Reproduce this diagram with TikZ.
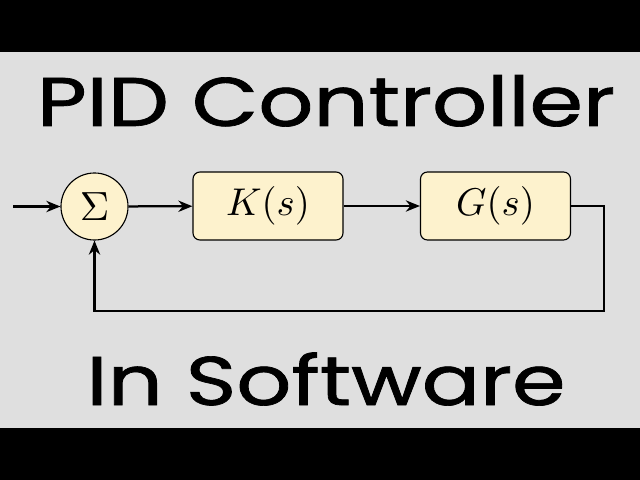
\documentclass[tikz,border=0pt]{standalone}
\usepackage{fontspec}
\newfontfamily\titlefont[FakeBold=1]{Poppins}
\usetikzlibrary{arrows.meta}
\definecolor{bg}{HTML}{DFDFDF}
\definecolor{boxfill}{HTML}{FDF2CD}
\begin{document}
\begin{tikzpicture}[x=0.025cm,y=-0.025cm,
  blk/.style={draw,line width=0.8pt,fill=boxfill,rounded corners=5pt,minimum width=3.75cm,minimum height=1.7cm,inner sep=0pt},
  sumnode/.style={draw,circle,line width=0.8pt,fill=boxfill,minimum size=1.675cm,inner sep=0pt},
  conn/.style={line width=1.6pt,-{Stealth[length=10pt,width=8pt]}},
  title/.style={font=\titlefont\fontsize{49}{55}\selectfont,inner sep=0pt,anchor=base}]
\fill[bg] (0,0) rectangle (640,480);
\fill[black] (0,0) rectangle (640,52);
\fill[black] (0,428) rectangle (640,480);
\useasboundingbox (0,0) rectangle (640,480);
\node[title] (t1) at (326,126) {\scalebox{1.25}[1]{PID Controller}};
\node[title] (t2) at (326,405) {\scalebox{1.25}[1]{In Software}};
\node[sumnode] (sum) at (94.5,206.5) {\scalebox{2.9}{$\Sigma$}};
\node[blk] (k) at (268,206) {\scalebox{2.75}{$K(s)$}};
\node[blk] (g) at (495.5,206) {\scalebox{2.75}{$G(s)$}};
\coordinate (in) at (13,206.5);
\coordinate (c1) at (604,206);
\coordinate (c2) at (604,311);
\coordinate (c3) at (94.5,311);
\draw[conn] (in) -- (sum);
\draw[conn] (sum) -- (k);
\draw[conn] (k) -- (g);
\draw[conn] (g.east) -- (c1) -- (c2) -- (c3) -- (sum.south);
\end{tikzpicture}
\end{document}
